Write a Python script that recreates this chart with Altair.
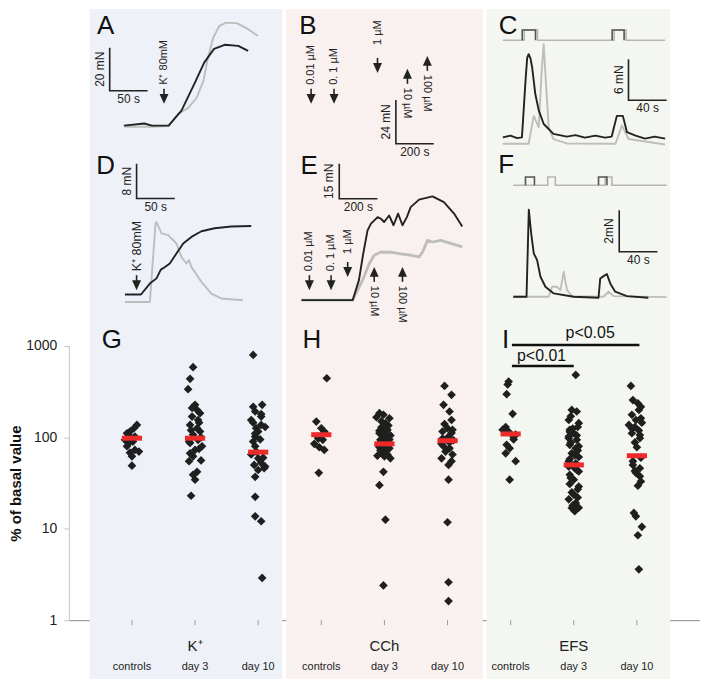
import altair as alt
import pandas as pd

FONT = "Liberation Sans"
INK = "#222222"
GREY = "#bdbdbd"
DOT = "#1f1f1f"
RED = "#ee2b2b"
BG_BLUE = "#eef2f8"
BG_PINK = "#f9f1ef"
BG_GREEN = "#f4f7f1"
FIG_H = 672

# ---------------- force recordings (time in s, force in mN) ----------------
# A: K+ 80 mM, black = control, grey = treated
A_BLACK_T = [45, 72, 82, 104, 121, 138, 151, 164, 178, 196, 209]
A_BLACK_F = [10.7, 11.7, 10.7, 10.7, 17.7, 30.2, 40.1, 46.5, 48.4, 47.9, 45.6]
A_GREY_T = [46, 82, 104, 117, 130, 141, 150, 156, 163, 171, 180, 194, 209, 222]
A_GREY_F = [10.2, 10.2, 10.5, 16.3, 19.0, 23.7, 31.6, 42.5, 51.8, 57.2, 58.7, 58.5, 55.7, 52.5]

# C: EFS
C_BLACK_T = [17, 25, 32, 37, 41, 42.5, 44, 46, 47.7, 51, 54.6, 59.8, 70, 84, 93, 103,
             114, 124, 131, 136.4, 142.7, 147, 156, 166, 176, 187]
C_BLACK_F = [1.65, 1.9, 1.54, 1.65, 10.5, 13.3, 13.85, 13.2, 11.9, 8.0, 5.6, 3.6, 2.15,
             1.76, 1.98, 1.6, 1.9, 1.6, 1.76, 4.8, 4.8, 2.4, 1.9, 1.46, 1.76, 1.46]
C_GREY_T = [17, 44, 49.4, 54.6, 57.5, 59.8, 62, 65, 70, 84, 135, 141.7, 148.6, 187]
C_GREY_F = [0.7, 0.7, 4.8, 3.1, 11.0, 15.3, 10.0, 3.1, 1.4, 0.75, 0.7, 3.4, 1.4, 0.6]
C_STIM = [15.9, 17.4, 17, 187]  # baseline, pulse level, start, end
C_PULSE_BLACK = [(37.3, 51.2), (131.5, 144)]
C_PULSE_GREY = [(39.4, 53.3), (133.6, 146)]

# D: K+ 80 mM
D_BLACK_T = [46, 67, 78.7, 87.4, 93, 97.5, 104.8, 113.5, 122.3, 133.1, 146.2, 163.5, 185.3, 211.4]
D_BLACK_F = [11.8, 11.8, 14.3, 15.5, 17.5, 18.0, 18.9, 21.2, 23.5, 25.0, 26.3, 27.0, 27.4, 27.5]
D_GREY_T = [46, 78.7, 86.1, 87.4, 94, 102.7, 113.5, 120.1, 126.6, 129.8, 133.1, 146.2, 159.2, 172.3, 200.6]
D_GREY_F = [10.1, 10.1, 28.0, 28.4, 25.8, 25.4, 23.5, 20.4, 18.9, 19.7, 18.1, 14.7, 12.0, 10.9, 10.5]

# E: carbachol
E_BLACK_T = [80, 348, 381, 402, 426, 444, 479, 496, 513, 539, 562, 586, 609, 632, 652,
             696, 766, 826, 879, 922]
E_BLACK_F = [19.7, 19.7, 28.3, 39.0, 49.7, 52.6, 55.4, 54.7, 53.3, 56.1, 51.9, 56.9, 51.9,
             55.4, 59.7, 62.9, 64.3, 61.8, 56.9, 51.4]
E_GREY_T = [80, 348, 400, 435, 461, 496, 548, 591, 653, 696, 714, 740, 766, 809, 922]
E_GREY_F = [19.7, 19.7, 28.3, 35.4, 39.0, 40.4, 40.3, 39.7, 39.0, 38.3, 40.4, 45.4, 44.7, 45.4, 42.6]

# F: EFS
F_BLACK_T = [27.9, 41.8, 44.2, 46.7, 49.4, 52.9, 56.4, 61.6, 70.3, 91.1, 117.2, 119, 122.5,
             126, 129.5, 134.7, 146.9, 169.4]
F_BLACK_F = [2.37, 2.37, 6.56, 5.41, 4.45, 4.13, 3.33, 2.85, 2.53, 2.37, 2.32, 3.25, 3.36,
             3.46, 3.01, 2.61, 2.4, 2.32]
F_GREY_T = [27.9, 65, 68.6, 73.8, 77.3, 80.7, 84.2, 89.5, 122.5, 127.7, 132.9, 188.6]
F_GREY_F = [2.37, 2.37, 2.85, 2.85, 2.69, 3.57, 2.69, 2.4, 2.37, 2.61, 2.4, 2.35]
F_STIM = [7.73, 8.13, 27.9, 188.6]
F_PULSE_BLACK = [(40.7, 50.1), (117.2, 126)]
F_PULSE_GREY = [(64, 72), (124.2, 131.2)]

# scale bars: corner time, corner force, length (s), length (mN), labels
A_BAR = [26.3, 27.0, 50, 20, "50 s", "20 mN"]
B_BAR = [579, 2.6, 200, 24, "200 s", "24 mN"]
C_BAR = [148.6, 7.1, 40, 6, "40 s", "6 mN"]
D_BAR = [61.3, 33.8, 50, 8, "50 s", "8 mN"]
E_BAR = [278, 63.3, 200, 15, "200 s", "15 mN"]
F_BAR = [138.9, 4.53, 40, 2, "40 s", "2mN"]

# drug additions: time, force at arrow tip, direction, label, extra label gap (px)
A_ARROWS = [(98, 20.9, "down", "K\u207a 80mM", 0)]
B_ARROWS = [(131.5, 24.5, "down", "0.01 \u00b5M", 0), (252.5, 24.5, "down", "0. 1 \u00b5M", 0),
            (482, 41.4, "down", "1 \u00b5M", 9), (640, 43.6, "up", "10 \u00b5M", 0),
            (745, 50.7, "up", "100 \u00b5M", 0)]
D_ARROWS = [(61.3, 12.8, "down", "K\u207a 80mM", 0)]
E_ARROWS = [(121.6, 24.0, "down", "0.01 \u00b5M", 0), (235, 24.0, "down", "0. 1 \u00b5M", 0),
            (322, 29.7, "down", "1 \u00b5M", 4), (461, 34.0, "up", "10 \u00b5M", 0),
            (609, 34.0, "up", "100 \u00b5M", 0)]

# panel letters (time, force)
LETTERS = {"A": (21, 53.5), "B": (114, 62.7), "C": (22.4, 16.8),
           "D": (20.9, 39.5), "E": (120, 74), "F": (20.4, 8.3)}

# ---------------- % of basal value (log axis) ----------------
GROUP_NAMES = ["K\u207a", "CCh", "EFS"]
CATEGORIES = ["controls", "day 3", "day 10"]

K_CTRL_V = [137, 126, 116, 111, 102, 94, 87, 80, 73, 70, 62, 49, 105, 90, 68]
K_CTRL_J = [5, 2, -2, -5, 3, -7, -3, -5, 3, 7, 0, 0, -3, 1, -2]
K_DAY3_V = [586, 437, 337, 227, 200, 184, 169, 155, 137, 126, 116, 107, 94, 87, 80, 73, 67,
            62, 56, 55, 42, 39, 34.5, 23, 120, 100, 90, 75, 145, 210]
K_DAY3_J = [-2, -5, -7, 0, 2, 5, -3, 3, -5, 2, 5, -2, 3, -5, 7, 0, -5, -2, 6, -6, 2, -2, 0,
            -4, -4, 6, -6, 4, 4, -3]
K_DAY10_V = [798, 227, 216, 192, 169, 155, 137, 126, 116, 102, 90, 80, 65, 59, 52.5, 48, 44,
             37, 22.4, 13.7, 12.1, 2.9, 180, 145, 130, 110, 95, 70, 60, 50, 46]
K_DAY10_J = [-5, 4, -5, -3, 3, -7, 3, -2, 0, -3, -5, -3, -7, 0, 3, 7, 0, -3, -3, -3, 3, 4,
             3, -5, 7, -3, 2, -2, 5, -4, 6]

CCH_CTRL_V = [444, 149, 126, 116, 102, 94, 85, 78, 73, 41, 112, 97]
CCH_CTRL_J = [5.5, -5, 0, 3, -3.5, 1.5, -7, -2, 3, -2.5, 3, -3]
CCH_DAY3_V = [184, 177, 162, 166, 143, 129, 121, 111, 102, 94, 87, 78, 73, 67, 63, 59, 62,
              42, 30, 12.6, 2.4, 150, 135, 118, 105, 98, 90, 82, 76, 70, 65, 88, 100, 120,
              110, 95, 80, 72]
CCH_DAY3_J = [-5, -1, 5, -8, 1, -3, 3, -5, 1, -4, 5, -5, 1, -2, -7, 6, 0, -1, -5, 1, -1, -3,
              4, -5, 6, -2, 2, -6, 5, -1, 3, -4, 1, 2, -1, 5, 0, -4]
CCH_DAY10_V = [366, 292, 227, 192, 155, 126, 121, 116, 102, 80, 76, 59, 55, 50, 34.5, 11.8,
               2.6, 1.62, 140, 112, 97, 88, 70, 65, 85, 93]
CCH_DAY10_J = [-3, 4, -4, 2, 4, 0, 5, -5, 1, -4, 2, -6, 4, 1, 1, 0, 1, 1, -3, 4, -5, 2, -2,
               5, -6, 6]

EFS_CTRL_V = [408, 380, 297, 181, 130, 121, 107, 101, 83, 76, 67, 55, 34.5, 115, 95]
EFS_CTRL_J = [-2, -3, -4, 2, -5, -8, 5, 3, -4, -1, -5, 5, -1, -2, 3]
EFS_DAY3_V = [483, 200, 192, 155, 143, 121, 111, 102, 94, 83, 76, 67, 61, 55, 46, 42.4, 39,
              34.5, 31, 27, 23.7, 21, 19.2, 16.9, 15.6, 170, 130, 115, 105, 88, 72, 58, 52,
              48, 44, 36, 29, 25, 22, 18, 17, 64, 80, 98, 125]
EFS_DAY3_J = [2, -2, 3, -5, 5, -4, 0, -5, 3, -4, 2, -2, 5, -5, 1, 5, -4, 0, -4, 4, 0, -5, 2,
              -2, 1, -3, 4, -4, 3, -3, 4, -4, 2, -5, 3, -3, 5, -2, 4, -1, 5, 1, 5, -5, -1]
EFS_DAY10_V = [366, 256, 236, 216, 177, 162, 155, 137, 130, 119, 111, 98, 78, 50, 46, 41,
               37.5, 29.6, 14.9, 13.7, 10.5, 8.5, 3.6, 200, 145, 125, 106, 88, 60, 55, 43, 33]
EFS_DAY10_J = [-6, -4, 1, 4, -5, 4, -1, -8, -2, 2, -5, 3, 0, -4, 3, -1, 3, 1, -3, -1, 5, 1,
               2, 2, 5, -5, 3, -2, 4, -4, -2, 4]

MEANS = [98, 98, 69, 107, 85, 92, 109, 50, 63]

# significance bars: from group, to group, level, label, label position
SIG_BARS = [(6.02, 8.04, 1025, "p<0.05", 7.26, 1222), (6.02, 7.0, 605, "p<0.01", 6.49, 685)]
PANEL_LETTERS = [("G", -0.32), ("H", 2.85), ("I", 5.92)]

# panel placement inside the plot area (pixels) and units per pixel
GEOM = {
    "A": dict(xr=[21, 214], yr=[140, 0], spx=50 / 38, mpx=20 / 43),
    "B": dict(xr=[218, 415], yr=[140, 0], spx=200 / 38, mpx=24 / 44),
    "C": dict(xr=[419, 603], yr=[140, 0], spx=40 / 38.3, mpx=6 / 41),
    "D": dict(xr=[21, 214], yr=[338, 140], spx=50 / 38.3, mpx=8 / 35),
    "E": dict(xr=[218, 415], yr=[338, 140], spx=200 / 38.3, mpx=15 / 35),
    "F": dict(xr=[419, 603], yr=[338, 140], spx=40 / 38.3, mpx=2 / 41.7),
}

DOWN_HEAD = "M-1,-2.2L1,-2.2L0,0Z"
UP_HEAD = "M-1,2.2L1,2.2L0,0Z"


def trace_panel(key, lines=(), stim=None, bar=None, arrows=(), bg=None, arrow_font=11):
    g = GEOM[key]
    w = g["xr"][1] - g["xr"][0]
    h = g["yr"][0] - g["yr"][1]
    tmax = w * g["spx"]
    sx = alt.Scale(domain=[0, tmax], range=g["xr"], nice=False, zero=False)
    sy = alt.Scale(domain=[0, h * g["mpx"]], range=g["yr"], nice=False, zero=False)

    def X(f):
        return alt.X(f"{f}:Q", scale=sx, axis=None)

    def Y(f):
        return alt.Y(f"{f}:Q", scale=sy, axis=None)

    layers = []
    if bg:
        bdf = pd.DataFrame({"t0": [0], "t1": [tmax]})
        layers.append(alt.Chart(bdf).mark_rect(color=bg).encode(
            x=X("t0"), x2="t1:Q", y=alt.value(0), y2=alt.value(FIG_H)))

    if stim:
        base, top, start, end, black_p, grey_p = stim
        pts = [(start, base)]
        for a, b in grey_p:
            pts += [(a, base), (a, top), (b, top), (b, base)]
        pts.append((end, base))
        sdf = pd.DataFrame(pts, columns=["t", "f"])
        sdf["i"] = range(len(sdf))
        layers.append(alt.Chart(sdf).mark_line(color="#b5b5b5", strokeWidth=1.6).encode(
            x=X("t"), y=Y("f"), order="i:Q"))
        rows = []
        for n, (a, b) in enumerate(black_p):
            for j, p in enumerate([(a, base), (a, top), (b, top), (b, base)]):
                rows.append(dict(t=p[0], f=p[1], seg=n, i=j))
        layers.append(alt.Chart(pd.DataFrame(rows)).mark_line(color="#555555", strokeWidth=1.6).encode(
            x=X("t"), y=Y("f"), detail="seg:N", order="i:Q"))

    for T, F, color, sw in lines:
        df = pd.DataFrame({"t": T, "f": F, "i": range(len(T))})
        layers.append(alt.Chart(df).mark_line(color=color, strokeWidth=sw, strokeJoin="round").encode(
            x=X("t"), y=Y("f"), order="i:Q"))

    if bar:
        t0, f0, dt, dfv, xl, yl = bar
        bdf = pd.DataFrame({"t": [t0, t0, t0 + dt], "f": [f0 + dfv, f0, f0], "i": [0, 1, 2]})
        layers.append(alt.Chart(bdf).mark_line(color=INK, strokeWidth=1.6).encode(
            x=X("t"), y=Y("f"), order="i:Q"))
        lab = pd.DataFrame([dict(t=t0 - 3 * g["spx"], f=f0 + dfv / 2, txt=yl)])
        layers.append(alt.Chart(lab).mark_text(angle=270, align="center", baseline="bottom",
                                               fontSize=12, color=INK).encode(
            x=X("t"), y=Y("f"), text="txt:N"))
        lab2 = pd.DataFrame([dict(t=t0 + dt / 2, f=f0 - 3 * g["mpx"], txt=xl)])
        layers.append(alt.Chart(lab2).mark_text(align="center", baseline="top",
                                                fontSize=12, color=INK).encode(
            x=X("t"), y=Y("f"), text="txt:N"))

    if arrows:
        rows = []
        for t, tip, d, label, extra in arrows:
            s = 1 if d == "down" else -1
            rows.append(dict(t=t, tip=tip, dir=d, label=label,
                             s0=tip + s * 8 * g["mpx"], s1=tip + s * 15 * g["mpx"],
                             lab=tip + s * (19 + extra) * g["mpx"],
                             ang=270 if d == "down" else 90))
        adf = pd.DataFrame(rows)
        layers.append(alt.Chart(adf).mark_rule(color=INK, strokeWidth=1.6).encode(
            x=X("t"), y=Y("s0"), y2="s1:Q"))
        layers.append(alt.Chart(adf).mark_point(filled=True, size=81, opacity=1, color=INK).encode(
            x=X("t"), y=Y("tip"),
            shape=alt.Shape("dir:N", scale=alt.Scale(domain=["down", "up"], range=[DOWN_HEAD, UP_HEAD]),
                            legend=None)))
        layers.append(alt.Chart(adf).mark_text(align="left", baseline="middle",
                                               fontSize=arrow_font, color=INK).encode(
            x=X("t"), y=Y("lab"), text="label:N", angle=alt.Angle("ang:Q", scale=None)))

    lt, lf = LETTERS[key]
    ldf = pd.DataFrame([dict(t=lt, f=lf, txt=key)])
    layers.append(alt.Chart(ldf).mark_text(align="center", baseline="alphabetic",
                                           fontSize=26, color="#111111").encode(
        x=X("t"), y=Y("f"), text="txt:N"))

    return alt.layer(*layers)


pA = trace_panel("A", lines=[(A_GREY_T, A_GREY_F, GREY, 1.9), (A_BLACK_T, A_BLACK_F, INK, 1.9)],
                 bar=A_BAR, arrows=A_ARROWS, bg=BG_BLUE)
pB = trace_panel("B", bar=B_BAR, arrows=B_ARROWS, bg=BG_PINK)
pC = trace_panel("C", lines=[(C_GREY_T, C_GREY_F, GREY, 1.9), (C_BLACK_T, C_BLACK_F, INK, 1.9)],
                 stim=C_STIM + [C_PULSE_BLACK, C_PULSE_GREY], bar=C_BAR, bg=BG_GREEN)
pD = trace_panel("D", lines=[(D_GREY_T, D_GREY_F, GREY, 1.9), (D_BLACK_T, D_BLACK_F, INK, 1.9)],
                 bar=D_BAR, arrows=D_ARROWS, arrow_font=12.5)
pE = trace_panel("E", lines=[(E_GREY_T, E_GREY_F, GREY, 2.8), (E_BLACK_T, E_BLACK_F, INK, 1.9)],
                 bar=E_BAR, arrows=E_ARROWS)
pF = trace_panel("F", lines=[(F_GREY_T, F_GREY_F, GREY, 1.9), (F_BLACK_T, F_BLACK_F, INK, 1.9)],
                 stim=F_STIM + [F_PULSE_BLACK, F_PULSE_GREY], bar=F_BAR)

# ---------------- scatter ----------------
groups = [(K_CTRL_V, K_CTRL_J), (K_DAY3_V, K_DAY3_J), (K_DAY10_V, K_DAY10_J),
          (CCH_CTRL_V, CCH_CTRL_J), (CCH_DAY3_V, CCH_DAY3_J), (CCH_DAY10_V, CCH_DAY10_J),
          (EFS_CTRL_V, EFS_CTRL_J), (EFS_DAY3_V, EFS_DAY3_J), (EFS_DAY10_V, EFS_DAY10_J)]
rows = []
for gi, (vals, jits) in enumerate(groups):
    for v, j in zip(vals, jits):
        rows.append(dict(group=gi, value=v, jit=j))
scatter_df = pd.DataFrame(rows)

means_df = pd.DataFrame({"group": range(9), "mean": MEANS})
sig_df = pd.DataFrame(SIG_BARS, columns=["x1", "x2", "level", "label", "lx", "ly"])
letters_df = pd.DataFrame(PANEL_LETTERS, columns=["txt", "x"])
letters_df["y"] = 951
names_df = pd.DataFrame({"txt": GROUP_NAMES, "x": [1, 4, 7], "y": [0.52] * 3})
cats_df = pd.DataFrame({"x": range(9), "txt": CATEGORIES * 3, "y": [0.307] * 9,
                        "t0": [1.0] * 9, "t1": [0.88] * 9})

xscale = alt.Scale(domain=[-1, 9], nice=False, zero=False)
yscale = alt.Scale(type="log", domain=[1, 1000], range=[613, 338], nice=False)
xaxis = alt.Axis(orient="bottom", ticks=False, labels=False, grid=False, domainColor="#8c8c8c")
yaxis = alt.Axis(orient="left", values=[1, 10, 100, 1000], format="d", grid=False,
                 domainColor="#c4c4c4", tickColor="#c4c4c4", tickSize=5,
                 labelFontSize=14, labelPadding=7, labelColor=INK,
                 titleFontSize=15, titleFontWeight="bold", titlePadding=2, titleColor="#111111")


def SX(f):
    return alt.X(f"{f}:Q", scale=xscale, axis=xaxis, title=None)


def SY(f):
    return alt.Y(f"{f}:Q", scale=yscale, axis=yaxis, title="% of basal value")


points = alt.Chart(scatter_df).transform_calculate(
    xpos="datum.group + datum.jit / 63.3"
).mark_point(shape="diamond", filled=True, size=76, color=DOT, opacity=1).encode(
    x=SX("xpos"), y=SY("value"))

means = alt.Chart(means_df).transform_calculate(
    a="datum.group - 0.16", b="datum.group + 0.16"
).mark_rule(color=RED, strokeWidth=5).encode(x=SX("a"), x2="b:Q", y=SY("mean"))

sig_rules = alt.Chart(sig_df).mark_rule(color="#111111", strokeWidth=2.5).encode(
    x=SX("x1"), x2="x2:Q", y=SY("level"))
sig_text = alt.Chart(sig_df).mark_text(fontSize=16, baseline="alphabetic", color="#111111").encode(
    x=SX("lx"), y=SY("ly"), text="label:N")
letters = alt.Chart(letters_df).mark_text(fontSize=26, baseline="alphabetic", color="#111111").encode(
    x=SX("x"), y=SY("y"), text="txt:N")
names = alt.Chart(names_df).mark_text(fontSize=15, baseline="middle", color=INK).encode(
    x=SX("x"), y=SY("y"), text="txt:N")
cat_ticks = alt.Chart(cats_df).mark_rule(color="#9a9a9a", strokeWidth=1).encode(
    x=SX("x"), y=SY("t0"), y2="t1:Q")
cat_labels = alt.Chart(cats_df).mark_text(fontSize=11, baseline="middle", color=INK).encode(
    x=SX("x"), y=SY("y"), text="txt:N")

scatter = alt.layer(points, means, sig_rules, sig_text, letters, names, cat_ticks, cat_labels)

chart = alt.layer(pA, pB, pC, pD, pE, pF, scatter).resolve_scale(
    x="independent", y="independent"
).properties(width=633, height=613, padding=0).configure(
    font=FONT
).configure_view(stroke=None)

chart.save("out.html", embed_options={"renderer": "svg", "actions": False})
